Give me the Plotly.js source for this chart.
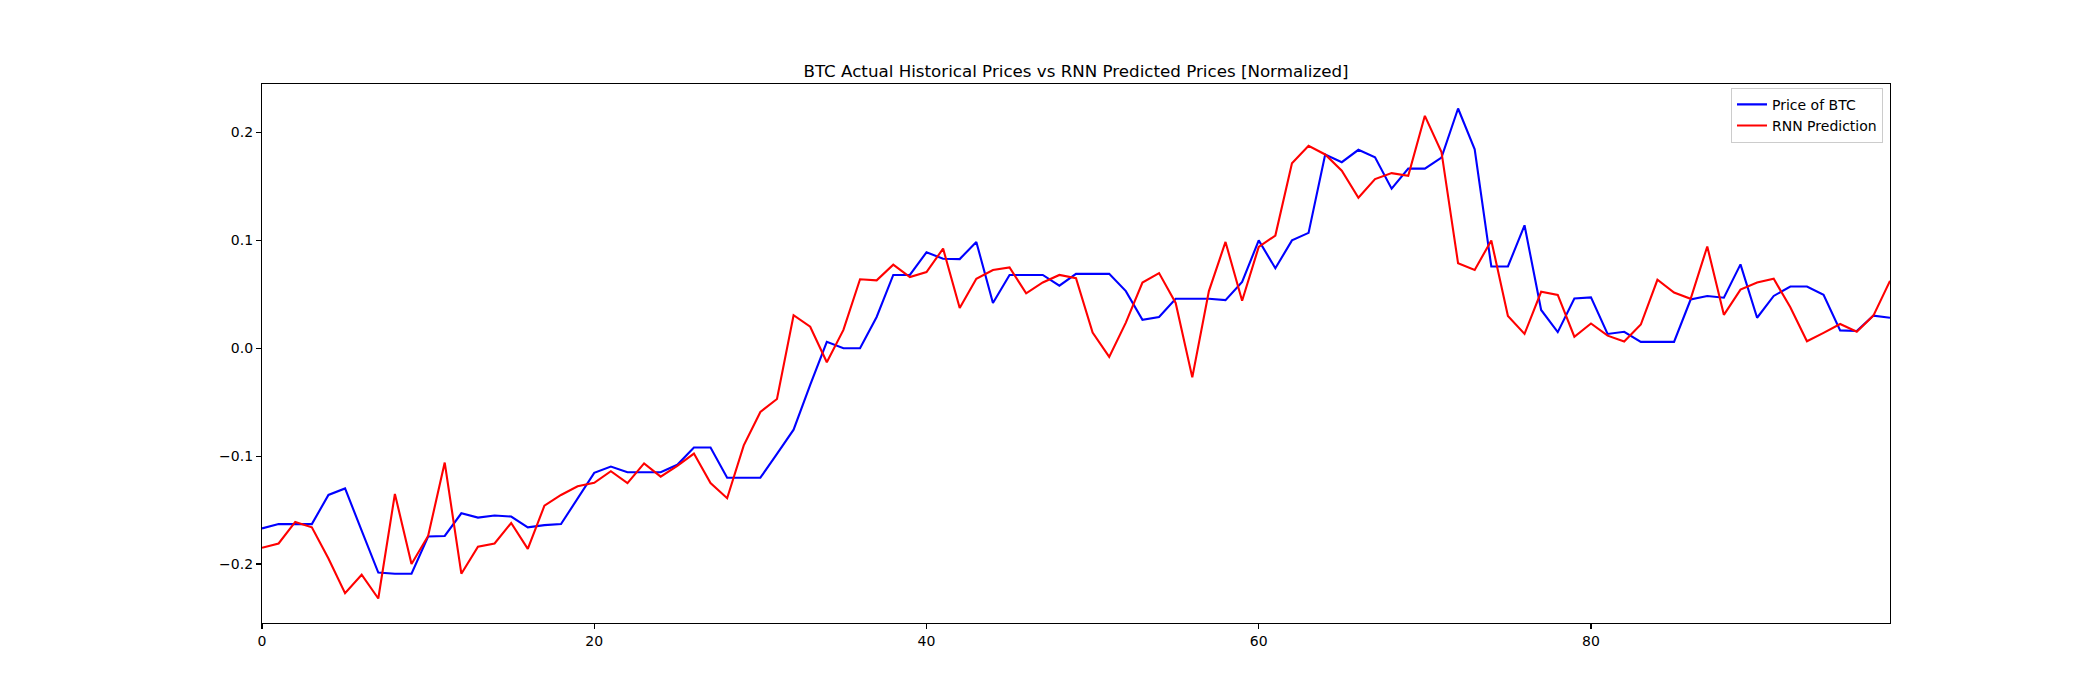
<!DOCTYPE html>
<html>
<head>
<meta charset="utf-8">
<script src="https://cdn.plot.ly/plotly-3.0.1.min.js"></script>
<style>
  html, body { margin: 0; padding: 0; background: #ffffff; }
  #chart { width: 2100px; height: 700px; }
</style>
</head>
<body>
<div id="chart"></div>
<script>
// ---- data ----
var chartTitle = "BTC Actual Historical Prices vs RNN Predicted Prices [Normalized]";
var seriesNames = ["Price of BTC", "RNN Prediction"];

var priceBTC = [
  -0.167, -0.163, -0.163, -0.163, -0.136, -0.130, -0.169, -0.208, -0.209, -0.209,
  -0.1745, -0.174, -0.153, -0.157, -0.155, -0.156, -0.166, -0.164, -0.163, -0.139,
  -0.1155, -0.1097, -0.115, -0.115, -0.115, -0.108, -0.092, -0.092, -0.120, -0.120,
  -0.120, -0.098, -0.0755, -0.034, 0.006, 0.000, 0.000, 0.029, 0.068, 0.068,
  0.089, 0.083, 0.0827, 0.0986, 0.042, 0.068, 0.068, 0.068, 0.058, 0.069,
  0.069, 0.069, 0.053, 0.0264, 0.029, 0.0459, 0.0459, 0.0459, 0.0446, 0.0615,
  0.100, 0.0742, 0.100, 0.107, 0.1797, 0.1725, 0.184, 0.177, 0.148, 0.1666,
  0.1666, 0.1767, 0.2223, 0.1845, 0.0758, 0.0758, 0.114, 0.0355, 0.015, 0.0462,
  0.0472, 0.0133, 0.0153, 0.0059, 0.0059, 0.0059, 0.0452, 0.0485, 0.0469, 0.0778,
  0.0283, 0.0485, 0.0573, 0.0573, 0.0495, 0.0166, 0.016, 0.0303, 0.0283
];

var rnnPrediction = [
  -0.185, -0.181, -0.161, -0.166, -0.195, -0.227, -0.210, -0.232, -0.135, -0.200,
  -0.174, -0.106, -0.209, -0.184, -0.181, -0.162, -0.186, -0.146, -0.136, -0.128,
  -0.1247, -0.114, -0.125, -0.1067, -0.119, -0.109, -0.0976, -0.125, -0.139, -0.090,
  -0.059, -0.047, 0.0306, 0.020, -0.013, 0.017, 0.064, 0.063, 0.0775, 0.066,
  0.0706, 0.0924, 0.0374, 0.0644, 0.0726, 0.0749, 0.051, 0.061, 0.068, 0.065,
  0.0146, -0.008, 0.0238, 0.061, 0.0697, 0.042, -0.027, 0.053, 0.0986, 0.044,
  0.094, 0.1045, 0.1715, 0.1878, 0.1797, 0.1647, 0.1396, 0.1569, 0.1624, 0.160,
  0.2155, 0.182, 0.0788, 0.0726, 0.100, 0.030, 0.0133, 0.0524, 0.0495, 0.0107,
  0.023, 0.0117, 0.0062, 0.022, 0.0635, 0.0517, 0.0459, 0.0944, 0.031, 0.0544,
  0.061, 0.0644, 0.038, 0.0065, 0.0143, 0.0225, 0.0153, 0.0303, 0.0625
];

var xIndex = priceBTC.map(function (_, i) { return i; });

var xTickVals = [0, 20, 40, 60, 80];
var yTickVals = [-0.2, -0.1, 0.0, 0.1, 0.2];
var yTickText = ["\u22120.2", "\u22120.1", "0.0", "0.1", "0.2"];

// ---- autoscale like matplotlib (5% margin) ----
var allY = priceBTC.concat(rnnPrediction);
var yMin = Math.min.apply(null, allY), yMax = Math.max.apply(null, allY);
var yPad = (yMax - yMin) * 0.05;

var font = "DejaVu Sans, Liberation Sans, sans-serif";

var traces = [
  {
    x: xIndex, y: priceBTC, name: seriesNames[0], type: "scatter", mode: "lines",
    line: { color: "#0000ff", width: 2.1 }
  },
  {
    x: xIndex, y: rnnPrediction, name: seriesNames[1], type: "scatter", mode: "lines",
    line: { color: "#ff0000", width: 2.1 }
  }
];

var axisCommon = {
  showgrid: false, zeroline: false,
  showline: true, linecolor: "#000000", linewidth: 1.1, mirror: true,
  ticks: "outside", ticklen: 5, tickwidth: 1.1, tickcolor: "#000000",
  tickfont: { family: font, size: 14, color: "#000000" }
};

var layout = {
  width: 2100, height: 700,
  paper_bgcolor: "#ffffff", plot_bgcolor: "#ffffff",
  margin: { l: 262, r: 210, t: 84, b: 77, pad: 0 },
  showlegend: true,
  title: {
    text: chartTitle,
    font: { family: font, size: 16.7, color: "#000000" },
    x: 0.5, xref: "paper", xanchor: "center",
    y: 1, yref: "paper", yanchor: "bottom",
    pad: { b: 7 }
  },
  xaxis: Object.assign({}, axisCommon, {
    range: [0, xIndex.length - 1],
    tickmode: "array", tickvals: xTickVals
  }),
  yaxis: Object.assign({}, axisCommon, {
    range: [yMin - yPad, yMax + yPad],
    tickmode: "array", tickvals: yTickVals, ticktext: yTickText
  }),
  legend: {
    x: 0.9957, xanchor: "right", xref: "paper",
    y: 0.993, yanchor: "top", yref: "paper",
    bgcolor: "rgba(255,255,255,0.8)",
    bordercolor: "#cccccc", borderwidth: 1,
    font: { family: font, size: 14, color: "#000000" },
    itemwidth: 30, tracegroupgap: 0
  }
};

Plotly.newPlot("chart", traces, layout, { displayModeBar: false, staticPlot: true });
</script>
</body>
</html>
